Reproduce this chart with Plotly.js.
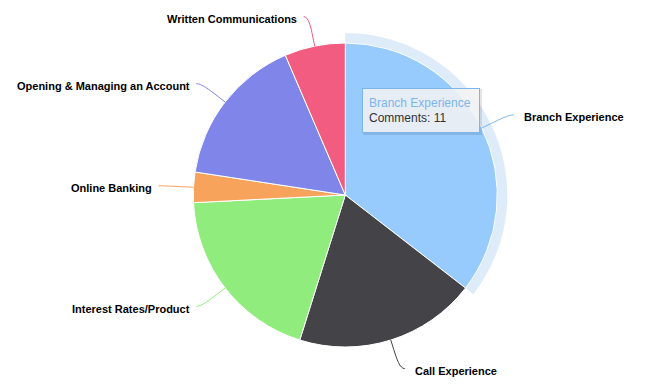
<!DOCTYPE html>
<html>
<head>
<meta charset="utf-8">
<script src="https://cdn.plot.ly/plotly-3.0.1.min.js"></script>
<style>html,body{margin:0;padding:0;background:#fff;}#chart{width:671px;height:389px;}</style>
</head>
<body>
<div id="chart"></div>
<script>
const categories = ['Branch Experience','Call Experience','Interest Rates/Product','Online Banking','Opening & Managing an Account','Written Communications'];
const comments = [11, 6, 6, 1, 5, 2];
const sliceColors = ['#98cbfd','#434348','#90ed7d','#f7a35c','#8085e9','#f15c80'];
const seriesColors = ['#7cb5ec','#434348','#90ed7d','#f7a35c','#8085e9','#f15c80'];
const hoveredIndex = 0;
const valueLabel = 'Comments';

const W = 671, H = 389;
const cx = 345.3, cy = 195, R = 152, haloR = 162, labelDist = 30;
const px = x => x / W;
const py = y => 1 - y / H;

const total = comments.reduce((a, b) => a + b, 0);

const pie = {
  type: 'pie', labels: categories, values: comments, sort: false,
  direction: 'clockwise', rotation: 0, textinfo: 'none', hoverinfo: 'skip',
  marker: {colors: sliceColors, line: {color: '#ffffff', width: 1}},
  domain: {x: [px(cx - R), px(cx + R)], y: [py(cy + R), py(cy - R)]},
  showlegend: false
};
const halo = {
  type: 'pie', labels: categories, values: comments, sort: false,
  direction: 'clockwise', rotation: 0, textinfo: 'none', hoverinfo: 'skip',
  hole: R / haloR,
  marker: {colors: categories.map((c, i) => i === hoveredIndex ? 'rgba(124,181,236,0.25)' : 'rgba(0,0,0,0)'), line: {width: 0}},
  domain: {x: [px(cx - haloR), px(cx + haloR)], y: [py(cy + haloR), py(cy - haloR)]},
  showlegend: false
};

const annotations = [];
const shapes = [];
let cum = 0;
categories.forEach((name, i) => {
  const mid = (cum + comments[i] / 2) / total * 2 * Math.PI;
  cum += comments[i];
  const s = Math.sin(mid), c = Math.cos(mid);
  const right = s >= 0;
  const touch = [cx + R * s, cy - R * c];
  const brk = [cx + (R + 10) * s, cy - (R + 10) * c];
  const lx = cx + (R + labelDist) * s;
  const ly = cy - (R + labelDist) * c;
  const endX = lx + (right ? 5 : -5);
  const p = (x, y) => px(x).toFixed(5) + ',' + py(y).toFixed(5);
  const path = 'M' + p(endX, ly) +
    ' C' + p(endX + (right ? -5 : 5), ly) + ' ' + p(2 * brk[0] - touch[0], 2 * brk[1] - touch[1]) + ' ' + p(brk[0], brk[1]) +
    ' L' + p(touch[0], touch[1]);
  shapes.push({type: 'path', xref: 'paper', yref: 'paper', path: path, line: {color: seriesColors[i], width: 1}});
  annotations.push({
    xref: 'paper', yref: 'paper', x: px(right ? lx + 13.5 : lx - 9.5), y: py(ly + 2.5),
    xanchor: right ? 'left' : 'right', yanchor: 'middle', showarrow: false,
    text: '<b>' + name.replace(/&/g, '&amp;') + '</b>',
    font: {family: 'Liberation Sans, Arial, sans-serif', size: 11, color: '#000000'}
  });
});

// tooltip for the hovered slice
const tipX0 = 362, tipX1 = 480, tipY0 = 88, tipY1 = 133;
shapes.push({type: 'rect', xref: 'paper', yref: 'paper', x0: px(tipX0 + 1), x1: px(tipX1 + 2), y0: py(tipY0 + 1), y1: py(tipY1 + 2),
  fillcolor: 'rgba(0,0,0,0.10)', line: {width: 0}, layer: 'above'});
annotations.push({
  xref: 'paper', yref: 'paper', x: px((tipX0 + tipX1) / 2), y: py((tipY0 + tipY1) / 2),
  xanchor: 'center', yanchor: 'middle', showarrow: false, align: 'left',
  width: 104, height: 31, borderpad: 6, borderwidth: 1,
  bordercolor: seriesColors[hoveredIndex], bgcolor: 'rgba(247,247,247,0.85)',
  text: '<span style="color:' + seriesColors[hoveredIndex] + '">' + categories[hoveredIndex] + '</span><br>' + valueLabel + ': ' + comments[hoveredIndex],
  font: {family: 'Liberation Sans, Arial, sans-serif', size: 12, color: '#333333'}
});

const layout = {
  width: W, height: H, margin: {l: 0, r: 0, t: 0, b: 0},
  paper_bgcolor: '#ffffff', plot_bgcolor: '#ffffff', showlegend: false,
  annotations: annotations, shapes: shapes
};
Plotly.newPlot('chart', [halo, pie], layout, {displayModeBar: false, staticPlot: true});
</script>
</body>
</html>
